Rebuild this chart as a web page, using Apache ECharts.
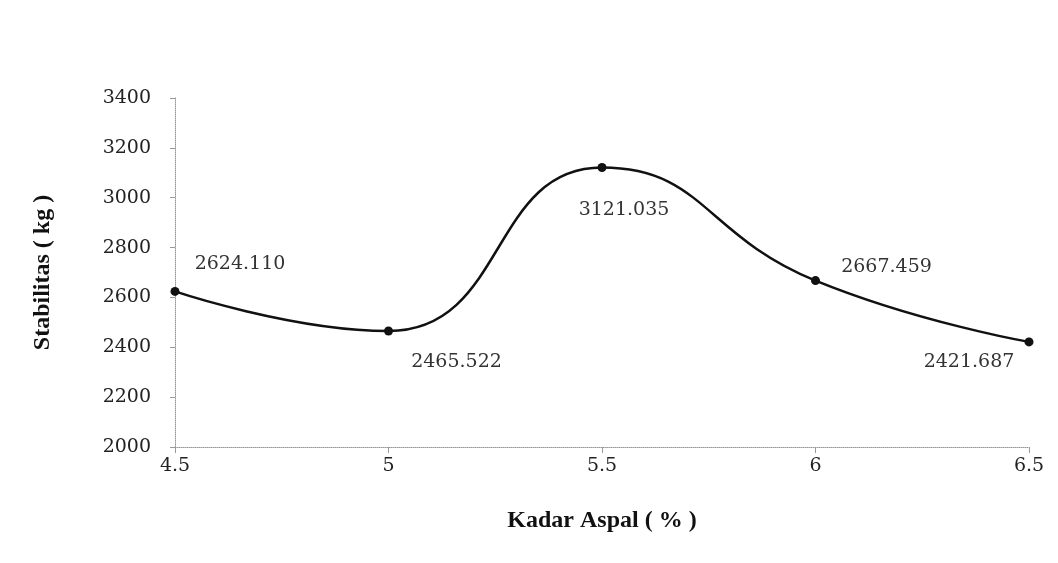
<!DOCTYPE html>
<html>
<head>
<meta charset="utf-8">
<script src="https://cdn.jsdelivr.net/npm/echarts@6/dist/echarts.min.js"></script>
<style>
  html, body { margin: 0; padding: 0; background: #fff; }
  #chart { width: 1058px; height: 563px; }
</style>
</head>
<body>
<div id="chart"></div>
<script>
// data
var kadarAspal = [4.5, 5, 5.5, 6, 6.5];
var stabilitas = [2624.110, 2465.522, 3121.035, 2667.459, 2421.687];
var labelText = ["2624.110", "2465.522", "3121.035", "2667.459", "2421.687"];

// where each value label sits relative to its point
var labelPlace = [
  { position: "top", offset: [65, -8] },
  { position: "bottom", offset: [68, 12] },
  { position: "bottom", offset: [22, 24] },
  { position: "top", offset: [71, 5] },
  { position: "bottom", offset: [-60, 1] }
];

var serif = "'Liberation Serif', 'DejaVu Serif', serif";
var wideSerif = "'DejaVu Serif', 'Liberation Serif', serif";

var seriesData = kadarAspal.map(function (x, i) {
  return {
    value: [x, stabilitas[i]],
    label: {
      show: true,
      position: labelPlace[i].position,
      offset: labelPlace[i].offset,
      formatter: labelText[i]
    }
  };
});

var myChart = echarts.init(document.getElementById("chart"));
myChart.setOption({
  backgroundColor: "#fff",
  animation: false,
  grid: { left: 175, right: 29, top: 98, bottom: 116 },
  xAxis: {
    type: "value",
    min: 4.5,
    max: 6.5,
    interval: 0.5,
    name: "Kadar Aspal ( % )",
    nameLocation: "middle",
    nameGap: 62,
    nameTextStyle: { fontFamily: serif, fontSize: 24, fontWeight: "bold", color: "#111" },
    axisLine: { show: true, lineStyle: { color: "#999", type: "dotted", width: 1 } },
    axisTick: { show: true, length: 6, lineStyle: { color: "#999" } },
    axisLabel: { fontFamily: wideSerif, fontSize: 19, color: "#222", margin: 10 },
    splitLine: { show: false }
  },
  yAxis: {
    type: "value",
    min: 2000,
    max: 3400,
    interval: 200,
    name: "Stabilitas ( kg )",
    nameLocation: "middle",
    nameGap: 120,
    nameRotate: 90,
    nameTextStyle: { fontFamily: serif, fontSize: 24, fontWeight: "bold", color: "#111" },
    axisLine: { show: true, lineStyle: { color: "#999", type: "dotted", width: 1 } },
    axisTick: { show: true, length: 5, lineStyle: { color: "#999" } },
    axisLabel: {
      fontFamily: wideSerif, fontSize: 19, color: "#222", margin: 24,
      formatter: function (v) { return String(v); }
    },
    splitLine: { show: false }
  },
  series: [
    {
      type: "line",
      data: seriesData,
      smooth: 0.5,
      symbol: "circle",
      symbolSize: 9,
      itemStyle: { color: "#111" },
      lineStyle: { color: "#111", width: 2.5 },
      label: { fontFamily: wideSerif, fontSize: 19, color: "#333" }
    }
  ]
});
</script>
</body>
</html>
